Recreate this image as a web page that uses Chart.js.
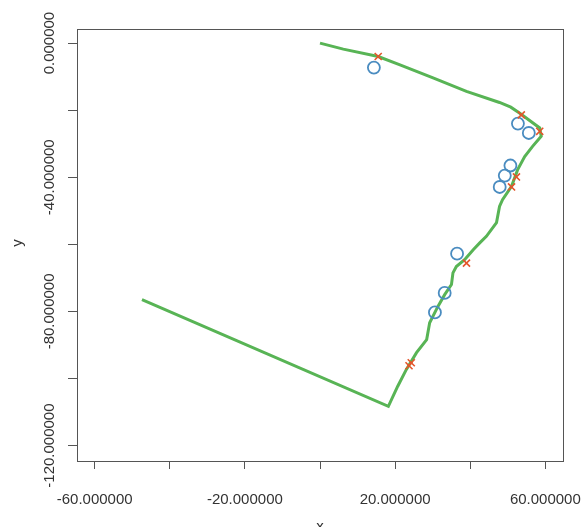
<!DOCTYPE html>
<html>
<head>
<meta charset="utf-8">
<script src="https://cdn.jsdelivr.net/npm/chart.js@4.4.1/dist/chart.umd.min.js"></script>
<style>
  html, body { margin: 0; padding: 0; background: #ffffff; }
  #c { display: block; }
</style>
</head>
<body>
<canvas id="c" width="585" height="527"></canvas>
<script>
// ---- data ----
const lineX = [0.0, 6.2, 15.5, 21.3, 30.1, 39.0, 47.8, 50.8, 53.2, 58.5, 58.9, 56.6, 54.5, 52.6, 51.0, 48.6, 47.8, 47.0, 44.3, 42.6, 40.8, 38.5, 36.3, 35.4, 35.0, 33.2, 31.4, 29.2, 28.4, 25.7, 23.0, 20.7, 18.2, -47.4];
const lineY = [0.0, -1.8, -4.0, -6.5, -10.4, -14.4, -17.7, -19.1, -20.9, -25.3, -27.8, -30.8, -33.8, -37.8, -42.7, -46.7, -48.7, -53.5, -57.6, -59.5, -61.6, -64.6, -66.6, -68.5, -72.0, -75.0, -78.5, -83.4, -88.4, -92.3, -97.3, -102.3, -108.3, -76.5];

const crossX = [15.5, 53.6, 58.5, 52.3, 51.0, 39.0, 23.7, 24.3];
const crossY = [-4.0, -21.4, -26.3, -39.9, -42.9, -65.6, -96.2, -95.3];

const circleX = [14.35, 52.7, 55.6, 50.7, 49.2, 47.85, 36.5, 33.2, 30.6];
const circleY = [-7.3, -24.0, -26.8, -36.5, -39.5, -42.9, -62.8, -74.5, -80.3];

const xLabelValues = [-60, -20, 20, 60];
const yLabelValues = [0, -40, -80, -120];
const xTitle = 'x';
const yTitle = 'y';

// ---- helpers ----
const toPoints = (xs, ys) => xs.map((x, i) => ({ x: x, y: ys[i] }));
const FONT = '"Liberation Sans", Arial, sans-serif';
const TEXT = '#333333';
const AXIS = '#555555';

const framePlugin = {
  id: 'frame',
  afterDraw(chart) {
    const ctx = chart.ctx;
    const a = chart.chartArea;
    ctx.save();
    ctx.strokeStyle = AXIS;
    ctx.lineWidth = 1;
    ctx.strokeRect(Math.round(a.left) + 0.5, Math.round(a.top) + 0.5,
                   Math.round(a.right - a.left), Math.round(a.bottom - a.top));
    // vertical y tick labels
    const ys = chart.scales.y;
    ctx.fillStyle = TEXT;
    ctx.font = '15px ' + FONT;
    ctx.textAlign = 'center';
    ctx.textBaseline = 'middle';
    yLabelValues.forEach(v => {
      const py = ys.getPixelForValue(v);
      ctx.save();
      ctx.translate(50, py);
      ctx.rotate(-Math.PI / 2);
      ctx.fillText(v.toFixed(6), 0, 0);
      ctx.restore();
    });
    // axis titles
    ctx.save();
    ctx.translate(18, (a.top + a.bottom) / 2 - 2);
    ctx.rotate(-Math.PI / 2);
    ctx.fillText(yTitle, 0, 0);
    ctx.restore();
    ctx.textBaseline = 'alphabetic';
    ctx.fillText(xTitle, (a.left + a.right) / 2, 531);
    ctx.restore();
  }
};

new Chart(document.getElementById('c'), {
  type: 'scatter',
  data: {
    datasets: [
      {
        label: 'cross',
        data: toPoints(crossX, crossY),
        pointStyle: 'crossRot',
        pointRadius: 5,
        borderColor: '#E4552B',
        borderWidth: 1.6,
        showLine: false
      },
      {
        label: 'circle',
        data: toPoints(circleX, circleY),
        pointStyle: 'circle',
        pointRadius: 6,
        borderColor: '#4A8CC0',
        backgroundColor: 'rgba(0,0,0,0)',
        borderWidth: 1.8,
        showLine: false
      },
      {
        label: 'track',
        data: toPoints(lineX, lineY),
        showLine: true,
        pointRadius: 0,
        borderColor: '#58B455',
        borderWidth: 3,
        tension: 0,
        fill: false
      }
    ]
  },
  options: {
    responsive: false,
    animation: false,
    devicePixelRatio: 1,
    layout: { padding: { left: 0, top: 29, right: 22, bottom: 0 } },
    plugins: { legend: { display: false }, tooltip: { enabled: false } },
    scales: {
      x: {
        type: 'linear',
        min: -64.7,
        max: 64.7,
        afterFit(s) { s.height = 66; s.paddingLeft = 0; s.paddingRight = 0; },
        border: { display: false },
        grid: { drawOnChartArea: false, drawTicks: true, tickLength: 8, color: AXIS, lineWidth: 1 },
        ticks: {
          stepSize: 20,
          includeBounds: false,
          autoSkip: false,
          maxRotation: 0,
          padding: 22,
          color: TEXT,
          font: { family: FONT, size: 15 },
          callback: (v) => xLabelValues.includes(Math.round(v)) ? Number(v).toFixed(6) : ''
        }
      },
      y: {
        type: 'linear',
        min: -124.6,
        max: 4.2,
        afterFit(s) { s.width = 77; s.paddingTop = 0; s.paddingBottom = 0; },
        border: { display: false },
        grid: { drawOnChartArea: false, drawTicks: true, tickLength: 9, color: AXIS, lineWidth: 1 },
        ticks: {
          stepSize: 20,
          includeBounds: false,
          autoSkip: false,
          padding: 0,
          callback: () => ''
        }
      }
    }
  },
  plugins: [framePlugin]
});
</script>
</body>
</html>
